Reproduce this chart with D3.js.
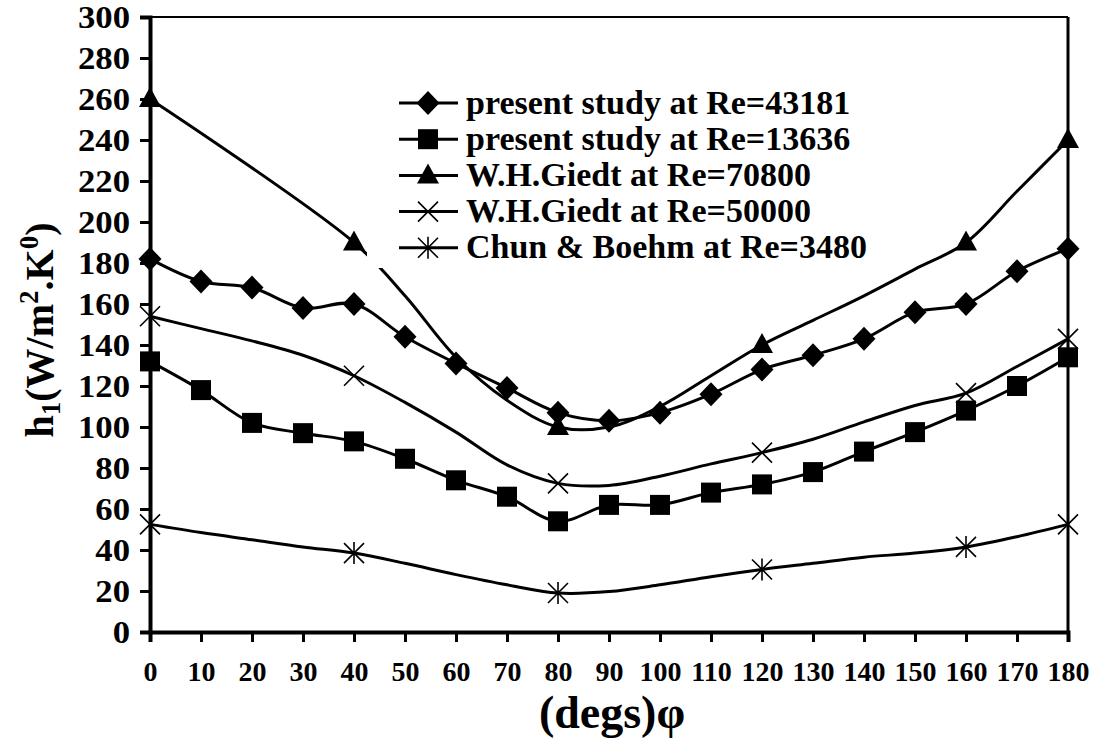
<!DOCTYPE html>
<html><head><meta charset="utf-8">
<script src="https://cdn.jsdelivr.net/npm/d3@7"></script>
<style>
body{margin:0;background:#fff;}
</style></head>
<body><svg id="c" width="1095" height="744"></svg>
<script>
const phi10 = [0,10,20,30,40,50,60,70,80,90,100,110,120,130,140,150,160,170,180];
const present43181 = [182,171,168,158,160,144,131,119,107,103,107,116,128,135,143,156,160,176,187];
const present13636 = [132,118,102,97,93,84.5,74,66,54,62,62,68,72,78,88,97.5,108,120,134];
const giedt70800Phi = [0,40,50,60,70,80,90,100,110,120,130,140,150,160,170,180];
const giedt70800 = [260,190,164,134,113,100,100,110,125,140,152,164,177,190,215,240];
const giedt50000 = [154,148,142,135,125,112,97.5,81.5,72.5,71.5,76,82,87.5,94,102.5,110.5,116.5,129.5,143];
const chun3480 = [52.5,48.5,45,41.5,38.5,33.5,28,23,19,19.7,23,27,30.5,33.5,36.5,38.5,41.5,46.5,52.5];
const markerPhi = [0,40,80,120,160,180];
const xTicks = [0,10,20,30,40,50,60,70,80,90,100,110,120,130,140,150,160,170,180];
const yTicks = [0,20,40,60,80,100,120,140,160,180,200,220,240,260,280,300];
const legendLabels = ["present study at Re=43181","present study at Re=13636","W.H.Giedt at Re=70800","W.H.Giedt at Re=50000","Chun & Boehm at Re=3480"];

const FONT = "'Liberation Serif', Tinos, 'Times New Roman', 'DejaVu Serif', serif";
const svg = d3.select("#c");
const x = d3.scaleLinear().domain([0,180]).range([150,1068]);
const y = d3.scaleLinear().domain([0,300]).range([632,17]);

svg.append("line").attr("x1",x(0)).attr("x2",x(180)).attr("y1",y(300)).attr("y2",y(300)).attr("stroke","#000").attr("stroke-width",2);
svg.append("line").attr("x1",x(180)).attr("x2",x(180)).attr("y1",y(300)).attr("y2",y(0)).attr("stroke","#000").attr("stroke-width",3);

const yAxis = svg.append("g").attr("transform",`translate(${x(0)},0)`)
  .call(d3.axisLeft(y).tickValues(yTicks).tickSize(10).tickPadding(10).tickFormat(d3.format("d")));
yAxis.attr("font-family",FONT).attr("font-size",31).attr("font-weight","bold");
const sx = 1.12;
yAxis.selectAll(".tick text").attr("dy","0.34em").attr("x",-20/sx).attr("transform",`scale(${sx},1)`);
const xAxis = svg.append("g").attr("transform",`translate(0,${y(0)})`)
  .call(d3.axisBottom(x).tickValues(xTicks).tickSize(10).tickPadding(19).tickFormat(d3.format("d")));
xAxis.attr("font-family",FONT).attr("font-size",28).attr("font-weight","bold");
[yAxis,xAxis].forEach(a=>{a.select(".domain").attr("stroke-width",4).attr("stroke","#000");a.selectAll(".tick line").attr("stroke-width",3).attr("stroke","#000");a.selectAll("text").attr("fill","#000");});

const curve = d3.curveCatmullRom.alpha(0.5);
const line = d3.line().x(d=>x(d[0])).y(d=>y(d[1])).curve(curve);
const zip = (a,b)=>a.map((v,i)=>[v,b[i]]);
const series = [
  {pts:zip(phi10,present43181), m:"diamond", mk:phi10},
  {pts:zip(phi10,present13636), m:"square", mk:phi10},
  {pts:zip(giedt70800Phi,giedt70800), m:"triangle", mk:markerPhi},
  {pts:zip(phi10,giedt50000), m:"x", mk:markerPhi},
  {pts:zip(phi10,chun3480), m:"star", mk:markerPhi}
];
function drawMarker(g,type,cx,cy){
  if(type==="diamond") g.append("path").attr("d",`M${cx},${cy-12}L${cx+11.5},${cy}L${cx},${cy+12}L${cx-11.5},${cy}Z`).attr("fill","#000");
  else if(type==="square") g.append("rect").attr("x",cx-10).attr("y",cy-10).attr("width",20).attr("height",20).attr("fill","#000");
  else if(type==="triangle") g.append("path").attr("d",`M${cx},${cy-12}L${cx+11},${cy+8}L${cx-11},${cy+8}Z`).attr("fill","#000");
  else if(type==="x") g.append("path").attr("d",`M${cx-10},${cy-10}L${cx+10},${cy+10}M${cx-10},${cy+10}L${cx+10},${cy-10}`).attr("stroke","#000").attr("stroke-width",1.6);
  else if(type==="star") g.append("path").attr("d",`M${cx-10},${cy-10}L${cx+10},${cy+10}M${cx-10},${cy+10}L${cx+10},${cy-10}M${cx},${cy-11}L${cx},${cy+11}`).attr("stroke","#000").attr("stroke-width",1.6);
}
const plot = svg.append("g");
series.forEach(s=>{
  plot.append("path").attr("d",line(s.pts)).attr("fill","none").attr("stroke","#000").attr("stroke-width",3);
});
series.forEach(s=>{
  s.pts.filter(p=>s.mk.includes(p[0])).forEach(p=>drawMarker(plot,s.m,x(p[0]),y(p[1])));
});

const lg = svg.append("g").attr("font-family",FONT).attr("font-weight","bold");
lg.append("rect").attr("x",367).attr("y",80).attr("width",500).attr("height",188).attr("fill","#fff");
legendLabels.forEach((t,i)=>{
  const cy = 103 + i*36.2;
  lg.append("line").attr("x1",399).attr("x2",458).attr("y1",cy).attr("y2",cy).attr("stroke","#000").attr("stroke-width",3);
  drawMarker(lg,series[i].m,428,cy);
  lg.append("text").attr("x",466).attr("y",cy+10.5).attr("font-size",34).attr("fill","#000").text(t);
});

svg.append("text").attr("x",612).attr("y",728).attr("text-anchor","middle")
  .attr("font-family",FONT).attr("font-weight","bold").attr("font-size",46).text("(degs)φ");
const yt = svg.append("text").attr("transform","translate(53,330) rotate(-90)").attr("text-anchor","middle")
  .attr("font-family",FONT).attr("font-weight","bold").attr("font-size",40);
yt.append("tspan").text("h");
yt.append("tspan").attr("baseline-shift","-25%").attr("font-size",27).text("1");
yt.append("tspan").text("(W/m");
yt.append("tspan").attr("baseline-shift","super").attr("font-size",27).text("2");
yt.append("tspan").text(".K");
yt.append("tspan").attr("baseline-shift","super").attr("font-size",27).text("0");
yt.append("tspan").text(")");
</script></body></html>
